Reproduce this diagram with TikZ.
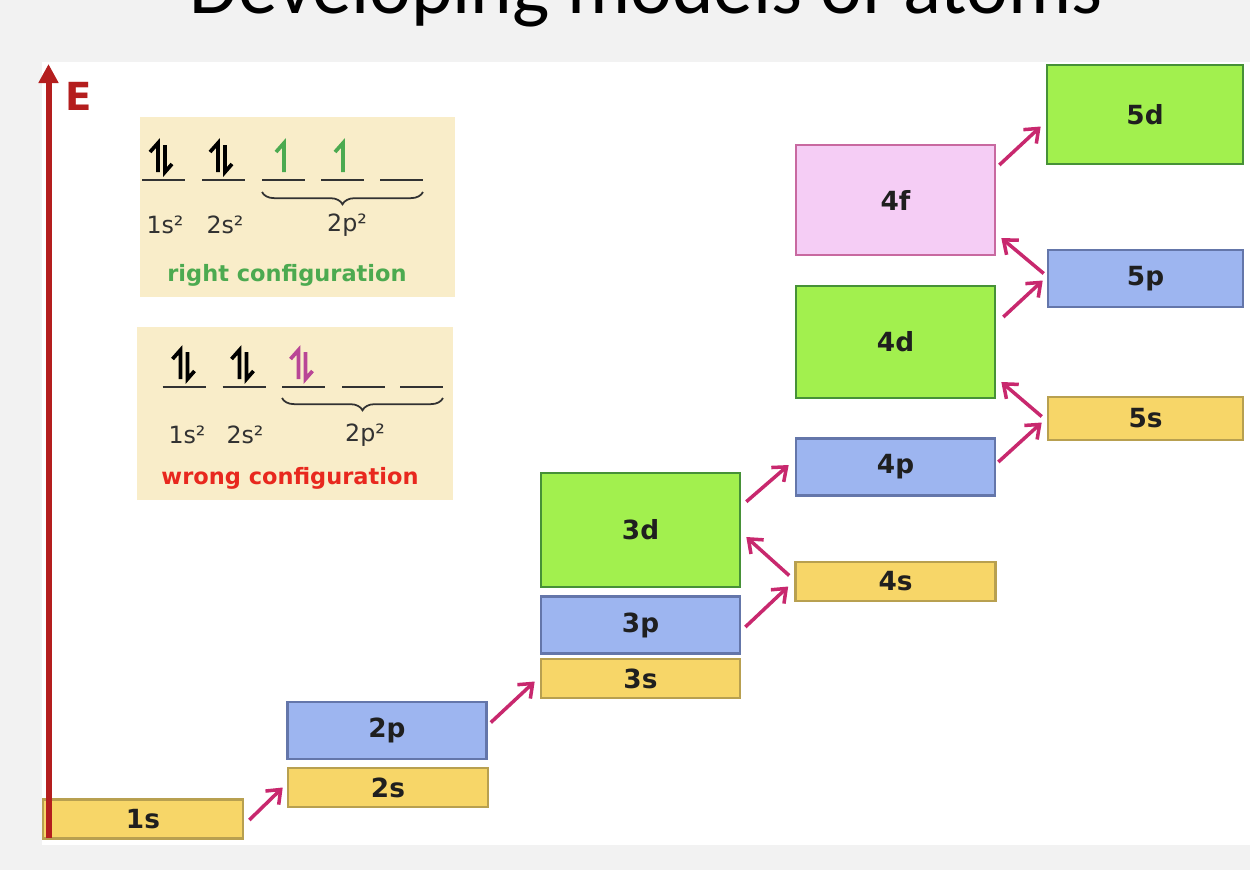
\documentclass[tikz,border=0pt]{standalone}
\usepackage{fontspec}
\setmainfont{DejaVu Sans}
\newfontfamily\titlefont{Carlito}
\usepackage{xcolor}
\usetikzlibrary{arrows.meta, positioning, decorations.pathreplacing}
\definecolor{bggray}{RGB}{242,242,242}
\definecolor{sfill}{RGB}{247,214,104}
\definecolor{sdraw}{RGB}{184,160,80}
\definecolor{pfill}{RGB}{157,181,240}
\definecolor{pdraw}{RGB}{100,118,170}
\definecolor{dfill}{RGB}{162,240,78}
\definecolor{ddraw}{RGB}{70,145,55}
\definecolor{ffill}{RGB}{245,205,245}
\definecolor{fdraw}{RGB}{200,105,160}
\definecolor{jumpc}{RGB}{200,40,110}
\definecolor{axred}{RGB}{180,30,30}
\definecolor{tanbg}{RGB}{249,237,201}
\definecolor{okgreen}{RGB}{76,170,80}
\definecolor{badred}{RGB}{232,40,30}
\definecolor{spinpink}{RGB}{185,70,150}
\definecolor{inkgray}{RGB}{50,50,50}
% spin arrows: #2 = x of orbital, #3 = y of its line
\newcommand{\spinpair}[3][black]{%
  \draw[#1, line width=2.1pt] (#2-11,#3-28) -- (#2-3,#3-37) -- (#2-3,#3-8);
  \draw[#1, line width=2.1pt] (#2+4,#3-35) -- (#2+4,#3-8) -- (#2+11,#3-16);}
\newcommand{\spinup}[3][black]{%
  \draw[#1, line width=2.1pt] (#2-8,#3-28) -- (#2,#3-37) -- (#2,#3-8);}

\begin{document}
\begin{tikzpicture}[
  x=0.02cm, y=-0.02cm,
  orb/.style={rectangle, line width=1.5pt, inner sep=0pt, text=black!88,
              font=\bfseries\fontsize{15}{15}\selectfont},
  sorb/.style={orb, fill=sfill, draw=sdraw, minimum width=4cm, minimum height=0.78cm},
  porb/.style={orb, fill=pfill, draw=pdraw, minimum width=3.98cm, minimum height=1.14cm},
  dorb/.style={orb, fill=dfill, draw=ddraw, minimum width=3.98cm, minimum height=2.26cm},
  forb/.style={orb, fill=ffill, draw=fdraw, minimum width=3.98cm, minimum height=2.2cm},
  jump/.style={-{Straight Barb[length=2.4mm, width=3.8mm]}, line width=2pt, jumpc},
  conf/.style={inkgray, font=\fontsize{13.5}{13.5}\selectfont},
  verdict/.style={font=\bfseries\fontsize{12.8}{12.8}\selectfont},
  shell/.style={inkgray, line width=1.2pt}
]
  \useasboundingbox (0,0) rectangle (1250,870);
  \fill[bggray] (0,0) rectangle (1250,870);
  \fill[white] (42,62) rectangle (1250,845);

  % Title (cut by the top edge)
  \node[font=\titlefont\fontsize{45}{45}\selectfont, anchor=base] (title) at (646,13)
       {Developing models of atoms};

  % Orbital boxes
  \node[sorb] (s1) at (143,819) {1s};
  \node[sorb] (s2) at (388,787.5) {2s};
  \node[porb] (p2) at (387,730.5) {2p};
  \node[sorb, minimum width=3.98cm] (s3) at (640.5,678.5) {3s};
  \node[porb] (p3) at (640.5,625) {3p};
  \node[dorb, minimum height=2.28cm] (d3) at (640.5,530) {3d};
  \node[sorb] (s4) at (895.5,581.5) {4s};
  \node[porb] (p4) at (895.5,467) {4p};
  \node[dorb, minimum height=2.24cm] (d4) at (895.5,342) {4d};
  \node[forb] (f4) at (895.5,200) {4f};
  \node[sorb, minimum width=3.9cm, minimum height=0.86cm] (s5) at (1145.5,418.5) {5s};
  \node[porb, minimum width=3.9cm] (p5) at (1145.5,278.5) {5p};
  \node[dorb, minimum width=3.92cm, minimum height=1.98cm] (d5) at (1145,114.5) {5d};

  % Filling order
  \draw[jump] ([shift={(5,1)}]s1.east) -- ([shift={(-4,0)}]s2.west);
  \draw[jump] ([shift={(3,-8)}]p2.east) -- ([shift={(-5,3)}]s3.west);
  \draw[jump] ([shift={(4,2)}]p3.east) -- ([shift={(-6,5)}]s4.west);
  \draw[jump] ([shift={(-5,-6)}]s4.west) -- ([shift={(5,7)}]d3.east);
  \draw[jump] ([shift={(5,30)}]d3.north east) -- ([shift={(-6,-2)}]p4.west);
  \draw[jump] ([shift={(2,-5)}]p4.east) -- ([shift={(-5,4)}]s5.west);
  \draw[jump] ([shift={(-5,-2)}]s5.west) -- ([shift={(5,40)}]d4.east);
  \draw[jump] ([shift={(7,-25)}]d4.east) -- ([shift={(-4,2)}]p5.west);
  \draw[jump] ([shift={(-3,-5)}]p5.west) -- ([shift={(5,38)}]f4.east);
  \draw[jump] ([shift={(3,-35)}]f4.east) -- ([shift={(-5,12)}]d5.west);

  % Energy axis
  \coordinate (axbot) at (48.5,838);
  \coordinate (axtop) at (48.5,64);
  \draw[axred, line width=0.12cm, -{Triangle[length=0.38cm, width=0.38cm]}] (axbot) -- (axtop);
  \node[axred, font=\bfseries\fontsize{22}{22}\selectfont] (elbl) at (78.5,96) {E};

  % Right configuration
  \fill[tanbg] (140,117) rectangle (455,297);
  \foreach \x in {163.5,223.5,283.5,342.5,401.5}
    \draw[shell] (\x-21.5,180) -- (\x+21.5,180);
  \spinpair{161}{180}
  \spinpair{221}{180}
  \spinup[okgreen]{284}{180}
  \spinup[okgreen]{343}{180}
  \draw[inkgray, line width=1pt, decorate, decoration={brace, amplitude=7pt, mirror}]
       (262,192) -- (423,192);
  \node[conf] (r1s) at (165,225) {1s²};
  \node[conf] (r2s) at (225,225) {2s²};
  \node[conf] (r2p) at (347,225) {2p²};
  \node[verdict, okgreen] (rightlbl) at (287,275) {right configuration};

  % Wrong configuration
  \fill[tanbg] (137,327) rectangle (453,500);
  \foreach \x in {184,244,303.5,363.5,421.5}
    \draw[shell] (\x-21.5,387) -- (\x+21.5,387);
  \spinpair{183.5}{387}
  \spinpair{242.5}{387}
  \spinpair[spinpink]{301.5}{387}
  \draw[inkgray, line width=1pt, decorate, decoration={brace, amplitude=7pt, mirror}]
       (282,398) -- (443,398);
  \node[conf] (w1s) at (187,435) {1s²};
  \node[conf] (w2s) at (245,435) {2s²};
  \node[conf] (w2p) at (365,435) {2p²};
  \node[verdict, badred] (wronglbl) at (290,478) {wrong configuration};
\end{tikzpicture}
\end{document}
